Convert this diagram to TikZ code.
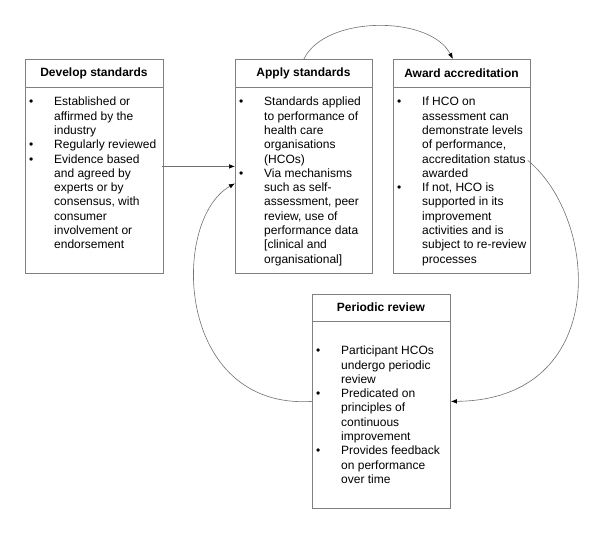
\documentclass[tikz,border=0pt]{standalone}
\usepackage{fontspec}
\setmainfont{Liberation Sans}
\usetikzlibrary{arrows.meta}
\definecolor{boxline}{HTML}{808080}
\definecolor{conline}{HTML}{707070}
\tikzset{
  card/.style={draw=boxline, line width=0.8pt, inner sep=0pt, anchor=north west},
  head/.style={font=\fontsize{12}{14.3}\selectfont\bfseries, inner sep=0pt},
  body/.style={font=\fontsize{12}{14.3}\selectfont, inner sep=0pt, anchor=north west},
  conn/.style={draw=conline, line width=0.6pt, -{Latex[length=6pt,width=4.5pt,color=black]}},
}
\newcommand{\blt}{\textbullet}
\begin{document}
\begin{tikzpicture}[x=1pt,y=1pt]
\useasboundingbox (0,0) rectangle (600,-535);
% boxes
\node[card, minimum width=138pt, minimum height=214pt] (b1) at (25,-59) {};
\node[card, minimum width=137pt, minimum height=214pt] (b2) at (235,-59) {};
\node[card, minimum width=137pt, minimum height=214pt] (b3) at (393,-59) {};
\node[card, minimum width=138pt, minimum height=214pt] (b4) at (312,-294) {};
% header separators
\draw[boxline, line width=0.8pt] (25,-87) -- (163,-87);
\draw[boxline, line width=0.8pt] (235,-87) -- (372,-87);
\draw[boxline, line width=0.8pt] (393,-87) -- (530,-87);
\draw[boxline, line width=0.8pt] (312,-321) -- (450,-321);
% headers
\node[head] (h1) at (94,-73) {Develop standards};
\node[head] (h2) at (303.5,-73) {Apply standards};
\node[head] (h3) at (461.5,-73) {Award accreditation};
\node[head] (h4) at (381,-307.5) {Periodic review};
% bodies
\node[body] (t1) at (29,-95.6) {\begin{tabular}{@{}p{25pt}@{}l@{}}
\blt & Established or\\
 & affirmed by the\\
 & industry\\
\blt & Regularly reviewed\\
\blt & Evidence based\\
 & and agreed by\\
 & experts or by\\
 & consensus, with\\
 & consumer\\
 & involvement or\\
 & endorsement
\end{tabular}};
\node[body] (t2) at (239,-95.6) {\begin{tabular}{@{}p{25pt}@{}l@{}}
\blt & Standards applied\\
 & to performance of\\
 & health care\\
 & organisations\\
 & (HCOs)\\
\blt & Via mechanisms\\
 & such as self-\\
 & assessment, peer\\
 & review, use of\\
 & performance data\\
 & [clinical and\\
 & organisational]
\end{tabular}};
\node[body] (t3) at (397,-95.6) {\begin{tabular}{@{}p{25pt}@{}l@{}}
\blt & If HCO on\\
 & assessment can\\
 & demonstrate levels\\
 & of performance,\\
 & accreditation status\\
 & awarded\\
\blt & If not, HCO is\\
 & supported in its\\
 & improvement\\
 & activities and is\\
 & subject to re-review\\
 & processes
\end{tabular}};
\node[body] (t4) at (316,-344.5) {\begin{tabular}{@{}p{25pt}@{}l@{}}
\blt & Participant HCOs\\
 & undergo periodic\\
 & review\\
\blt & Predicated on\\
 & principles of\\
 & continuous\\
 & improvement\\
\blt & Provides feedback\\
 & on performance\\
 & over time
\end{tabular}};
% connectors
\coordinate (a3s) at (b2.north);
\coordinate (a3e) at ([xshift=-9pt]b3.north);
\coordinate (a4s) at ([yshift=6pt,xshift=-3pt]b3.east);
\coordinate (a2e) at ([yshift=-17pt]b2.west);
\draw[conn] ([xshift=-2pt]b1.east) -- (b2.west);
\draw[conn] (a3s) .. controls (325,-15) and (430,-15) .. (a3e);
\draw[conn] (a4s) .. controls (600,-220) and (610,-400) .. (b4.east);
\draw[conn] (b4.west) .. controls (175,-410) and (170,-220) .. (a2e);
\end{tikzpicture}
\end{document}
